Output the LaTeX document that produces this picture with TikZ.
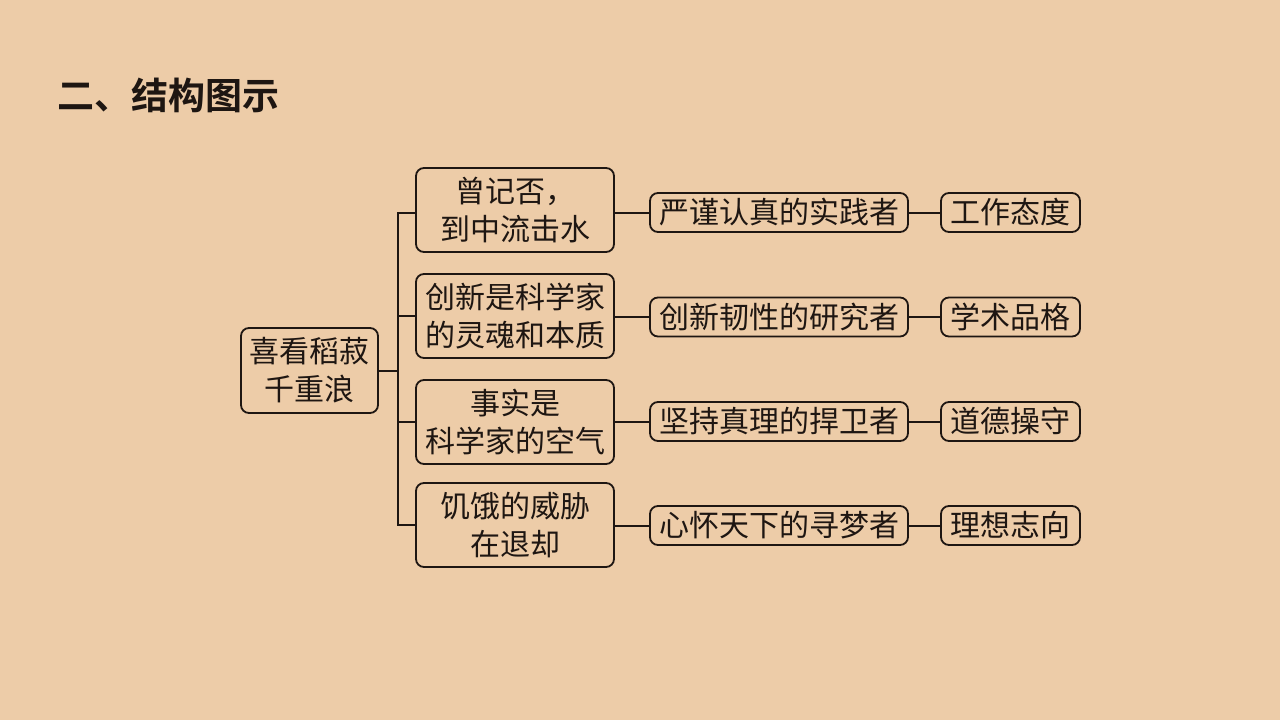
\documentclass[tikz,border=0pt]{standalone}
\usepackage{fontspec}
\newfontfamily\cjk{Noto Sans CJK SC}
\newfontfamily\cjkb{Noto Sans CJK SC Bold}
\definecolor{bg}{RGB}{237,204,168}
\definecolor{ink}{RGB}{30,22,18}
\begin{document}
\begin{tikzpicture}[x=1pt,y=-1pt,
  box/.style={draw=ink,line width=1.8pt,rounded corners=8pt,inner sep=0pt,align=center,
    text=ink,font=\cjk\fontsize{30}{38}\selectfont},
  rootbox/.style={box,minimum width=137pt,minimum height=85pt},
  midbox/.style={box,minimum width=198pt,minimum height=84pt},
  rolebox/.style={box,minimum width=258pt,minimum height=39pt},
  tagbox/.style={box,minimum width=139pt,minimum height=39pt},
  link/.style={draw=ink,line width=2pt}]
\fill[bg] (0,0) rectangle (1280,720);
\useasboundingbox (0,0) rectangle (1280,720);
\node[anchor=west,text=ink,font=\cjkb\fontsize{37}{37}\selectfont,inner sep=0pt] (title) at (57,95) {二、结构图示};

\node[rootbox] (root) at (309.5,370.5) {喜看稻菽\\千重浪};

\node[midbox] (m1) at (515,210) {曾记否，\\到中流击水};
\node[midbox] (m2) at (515,316) {创新是科学家\\的灵魂和本质};
\node[midbox] (m3) at (515,422) {事实是\\科学家的空气};
\node[midbox] (m4) at (515,525) {饥饿的威胁\\在退却};

\node[rolebox] (r1) at (779,212.5) {严谨认真的实践者};
\node[rolebox] (r2) at (779,317) {创新韧性的研究者};
\node[rolebox] (r3) at (779,421.5) {坚持真理的捍卫者};
\node[rolebox] (r4) at (779,525.5) {心怀天下的寻梦者};

\node[tagbox] (t1) at (1010.5,212.5) {工作态度};
\node[tagbox] (t2) at (1010.5,317) {学术品格};
\node[tagbox] (t3) at (1010.5,421.5) {道德操守};
\node[tagbox] (t4) at (1010.5,525.5) {理想志向};

\coordinate (bus) at (398,370.5);
\draw[link] (root.east) -- (bus);
\draw[link] (m1.west|-r1.west) -| (398,0|-m4.west) -- (m4.west);
\draw[link] (m2.west) -- (398,0|-m2.west);
\draw[link] (m3.west) -- (398,0|-m3.west);

\foreach \i in {1,2,3,4}{
  \draw[link] (m\i.east|-r\i.west) -- (r\i.west);
  \draw[link] (r\i.east) -- (t\i.west);
}
\end{tikzpicture}
\end{document}
